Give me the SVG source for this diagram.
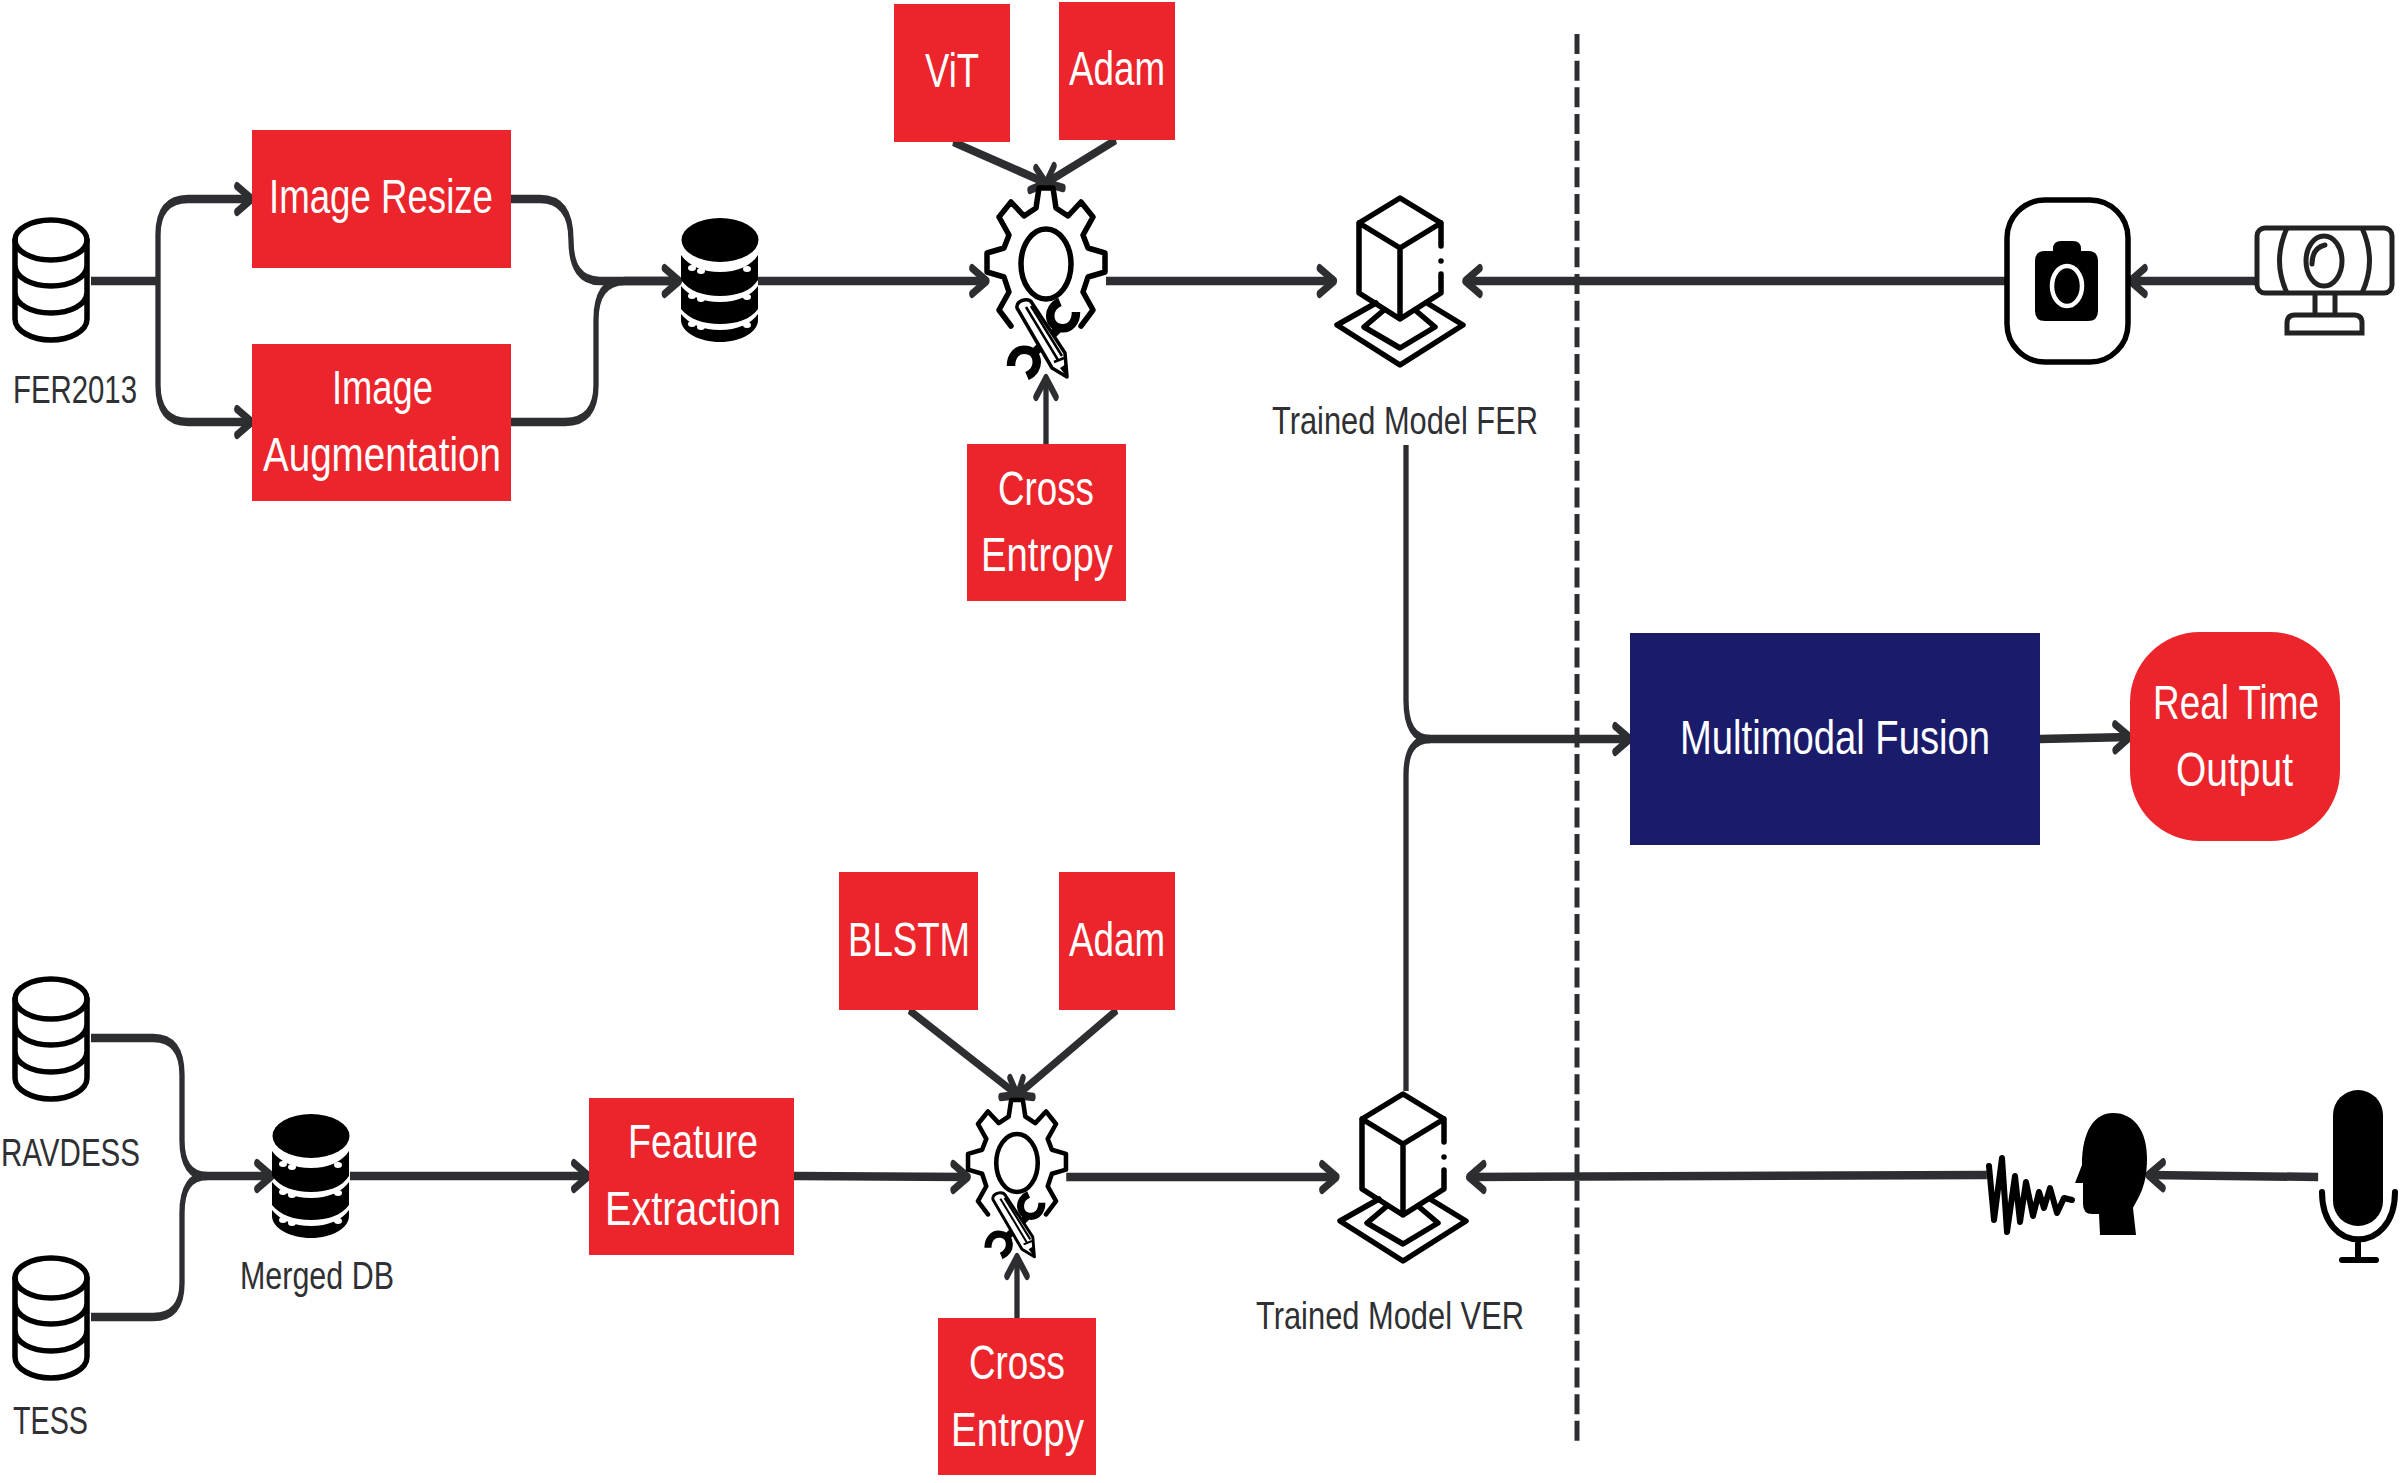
<svg xmlns="http://www.w3.org/2000/svg" width="2400" height="1483" viewBox="0 0 2400 1483">
<style>
.box{fill:#ec242c}
.w{fill:#fff;font-family:"Liberation Sans",Arial,sans-serif;font-size:49px}
.l{fill:#2f3034;font-family:"Liberation Sans",Arial,sans-serif;font-size:39px}
.c{fill:none;stroke:#2d2e32;stroke-width:8.500}
.h{fill:none;stroke:#2d2e32;stroke-width:8.500;stroke-linecap:round;stroke-linejoin:round}
.i{fill:none;stroke:#000;stroke-width:5.500;stroke-linejoin:round;stroke-linecap:round}
</style>
<defs>
<marker id="a" markerUnits="userSpaceOnUse" markerWidth="60" markerHeight="60" refX="40" refY="30" orient="auto"><path d="M16 17 L40 30 L16 43" class="h"/></marker>
<marker id="v" markerUnits="userSpaceOnUse" markerWidth="60" markerHeight="60" refX="40" refY="30" orient="auto"><path d="M21 14 L40 30 L21 46" class="h"/></marker>
<g id="db"><ellipse cx="51" cy="22" rx="36" ry="20" class="i"/><path class="i" d="M15 22V101C15 113 32 122 51 122S87 113 87 101V22M15 47C15 60 32 68 51 68S87 60 87 47M15 74C15 87 32 95 51 95S87 87 87 74"/></g>
<g id="dbf"><ellipse cx="39" cy="22" rx="38.500" ry="22"/><path d="M0 37C8 48 22 54 39 54S70 48 77 37V62C70 73 56 78 39 78S8 73 0 62ZM0 68C8 78 22 84 39 84S70 78 77 68V91C70 101 56 106 39 106S8 101 0 91ZM0 96C8 106 22 112 39 112S70 106 77 96V102C77 114 60 124 39 124S0 114 0 102Z"/><g fill="#fff"><ellipse cx="11" cy="50" rx="4" ry="3"/><ellipse cx="20" cy="53" rx="4" ry="3"/><ellipse cx="66" cy="51" rx="4" ry="3"/><ellipse cx="11" cy="78" rx="4" ry="3"/><ellipse cx="20" cy="81" rx="4" ry="3"/><ellipse cx="66" cy="79" rx="4" ry="3"/><ellipse cx="11" cy="106" rx="4" ry="3"/><ellipse cx="20" cy="109" rx="4" ry="3"/><ellipse cx="66" cy="107" rx="4" ry="3"/></g></g>
<g id="gear">
<path class="i" d="M-35 62L-47 46L-37 28L-42 13L-59 8L-59 -11L-42 -16L-37 -29L-47 -47L-35 -62L-22 -48L-10 -56L-7 -76H7L10 -56L22 -48L35 -62L47 -47L37 -29L42 -16L59 -11L59 8L42 13L37 28L47 46L35 62"/>
<ellipse rx="25" ry="35" class="i"/>
<path d="M14 38C0 44 2 62 14 64C24 66 30 58 30 48M13 64L-13 90M-19 112C-5 106 -7 88 -19 86C-29 84 -35 92 -35 102" fill="none" stroke="#000" stroke-width="8.500"/>
<path d="M-29 44Q-30 38 -22 36Q-16 35 -14 39L19 89L21 113L6 104Z" fill="#fff" stroke="#000" stroke-width="3.500" stroke-linejoin="round"/>
<path d="M-20 43L12 96M-15 42L16 92M8 98L18 94" fill="none" stroke="#000" stroke-width="2.500"/>
<path d="M14 104L21 113L20 100Z"/>
</g>
<g id="model"><path class="i" d="M1441 246V223L1400 198L1359 223V293L1400 319L1441 293V274M1359 223L1400 248L1441 223M1400 248V319M1441 261h.01"/><path class="i" d="M1376 303L1337 325L1400 365L1463 325L1427 303M1384 310L1364 327L1400 348L1435 327L1415 310"/></g>
</defs>
<rect width="2400" height="1483" fill="#fff"/>
<g id="connectors" transform="scale(.625 1)">
<path class="c" d="M145.600 281H252.800"/>
<path class="c" d="M252.800 281V235Q252.800 199 300.800 199H403" marker-end="url(#a)"/>
<path class="c" d="M252.800 281V385Q252.800 422 300.800 422H403" marker-end="url(#a)"/>
<path class="c" d="M817.600 199H864Q913.600 199 913.600 240Q913.600 281 960 281H1087" marker-end="url(#a)"/>
<path class="c" d="M817.600 422H904Q953.600 422 953.600 385V320Q953.600 281 1000 281H1087"/>
<path class="c" d="M1212.800 281H1579" marker-end="url(#a)"/>
<path class="c" d="M1524.800 142L1673.600 183"/><path class="h" d="M1657.600 168L1673.600 183L1648 190"/>
<path class="c" d="M1785.600 140L1673.600 183"/><path class="h" d="M1686.400 166L1673.600 183L1700.800 188"/>
<path class="c" d="M1673.600 444V378" marker-end="url(#v)"/>
<path class="c" d="M1769.600 281H2135" marker-end="url(#a)"/>
<path class="c" d="M3211 281H2344" marker-end="url(#a)"/>
<path class="c" d="M3608 281H3408" marker-end="url(#a)"/>
<path class="c" d="M145.600 1038H245Q291.200 1038 291.200 1075V1140Q291.200 1176 331 1176H435" marker-end="url(#a)"/>
<path class="c" d="M145.600 1317H245Q291.200 1317 291.200 1283V1213Q291.200 1176 331 1176"/>
<path class="c" d="M560 1176H942" marker-end="url(#a)"/>
<path class="c" d="M1270.400 1176L1549 1177" marker-end="url(#a)"/>
<path class="c" d="M1454.400 1010L1628 1095"/><path class="h" d="M1616 1078L1628 1095L1601.600 1097"/>
<path class="c" d="M1787.200 1010L1628 1095"/><path class="h" d="M1636.800 1078L1628 1095L1652.800 1097"/>
<path class="c" d="M1627.200 1318V1257" marker-end="url(#v)"/>
<path class="c" d="M1706 1177H2139" marker-end="url(#a)"/>
<path class="c" d="M3179 1175L2350 1177" marker-end="url(#a)"/>
<path class="c" d="M3709 1177L3437 1175" marker-end="url(#a)"/>
<path class="c" d="M2249.600 445V700Q2249.600 739 2288 739H2608" marker-end="url(#a)"/>
<path class="c" d="M2249.600 1091V775Q2249.600 739 2288 739"/>
<path class="c" d="M3264 739L3408 737" marker-end="url(#a)"/>
</g>
<path id="divider" d="M1577 34V1447" fill="none" stroke="#2d2e32" stroke-width="5" stroke-dasharray="20 6.670"/>
<g id="fer2013"><use href="#db" y="218"/><text class="l" x="13" y="403" textLength="124" lengthAdjust="spacingAndGlyphs">FER2013</text></g>
<g id="image-resize"><rect class="box" x="252" y="130" width="259" height="138"/><text class="w" x="269" y="213" textLength="224" lengthAdjust="spacingAndGlyphs">Image Resize</text></g>
<g id="image-aug"><rect class="box" x="252" y="344" width="259" height="157"/><text class="w" x="332" y="404" textLength="101" lengthAdjust="spacingAndGlyphs">Image</text><text class="w" x="263" y="471" textLength="238" lengthAdjust="spacingAndGlyphs">Augmentation</text></g>
<g id="db1"><use href="#dbf" x="681" y="218"/></g>
<g id="vit"><rect class="box" x="894" y="4" width="116" height="138"/><text class="w" x="925" y="87" textLength="54" lengthAdjust="spacingAndGlyphs">ViT</text></g>
<g id="adam1"><rect class="box" x="1059" y="2" width="116" height="138"/><text class="w" x="1069" y="85" textLength="96" lengthAdjust="spacingAndGlyphs">Adam</text></g>
<g id="gear1"><use href="#gear" transform="translate(1046,264)"/></g>
<g id="cross1"><rect class="box" x="967" y="444" width="159" height="157"/><text class="w" x="998" y="505" textLength="96" lengthAdjust="spacingAndGlyphs">Cross</text><text class="w" x="981" y="571" textLength="132" lengthAdjust="spacingAndGlyphs">Entropy</text></g>
<g id="model-fer"><use href="#model"/><text class="l" x="1272" y="434" textLength="266" lengthAdjust="spacingAndGlyphs">Trained Model FER</text></g>
<g id="camera"><rect x="2007" y="200" width="121" height="162" rx="38" fill="#fff" stroke="#000" stroke-width="5.500"/><path d="M2035 261Q2035 251 2045 251H2053V249Q2053 241 2061 241H2073Q2081 241 2081 249V251H2088Q2098 251 2098 261V311Q2098 321 2088 321H2045Q2035 321 2035 311Z"/><ellipse cx="2067" cy="286" rx="15" ry="20" fill="none" stroke="#fff" stroke-width="4.500"/></g>
<g id="webcam" fill="none" stroke="#222" stroke-width="5"><rect x="2257" y="228" width="135" height="65" rx="8"/><ellipse cx="2324" cy="261" rx="18" ry="25"/><path d="M2287 228Q2272 261 2287 293M2362 228Q2377 261 2362 293M2315 294V315M2335 294V315"/><path d="M2312 264Q2312 248 2325 245" stroke-linecap="round"/><path d="M2287 333V323Q2287 315 2295 315H2354Q2362 315 2362 323V333Z"/></g>
<g id="fusion"><rect x="1630" y="633" width="410" height="212" fill="#1a1c6b"/><text class="w" x="1680" y="754" textLength="310" lengthAdjust="spacingAndGlyphs">Multimodal Fusion</text></g>
<g id="output"><rect class="box" x="2130" y="632" width="210" height="209" rx="70"/><text class="w" x="2153" y="719" textLength="166" lengthAdjust="spacingAndGlyphs">Real Time</text><text class="w" x="2176" y="786" textLength="117" lengthAdjust="spacingAndGlyphs">Output</text></g>
<g id="ravdess"><use href="#db" y="977"/><text class="l" x="1" y="1166" textLength="139" lengthAdjust="spacingAndGlyphs">RAVDESS</text></g>
<g id="tess"><use href="#db" y="1256"/><text class="l" x="13" y="1434" textLength="75" lengthAdjust="spacingAndGlyphs">TESS</text></g>
<g id="merged"><use href="#dbf" x="272" y="1114"/><text class="l" x="240" y="1289" textLength="154" lengthAdjust="spacingAndGlyphs">Merged DB</text></g>
<g id="feature"><rect class="box" x="589" y="1098" width="205" height="157"/><text class="w" x="628" y="1158" textLength="130" lengthAdjust="spacingAndGlyphs">Feature</text><text class="w" x="605" y="1225" textLength="176" lengthAdjust="spacingAndGlyphs">Extraction</text></g>
<g id="blstm"><rect class="box" x="839" y="872" width="139" height="138"/><text class="w" x="848" y="956" textLength="122" lengthAdjust="spacingAndGlyphs">BLSTM</text></g>
<g id="adam2"><rect class="box" x="1059" y="872" width="116" height="138"/><text class="w" x="1069" y="956" textLength="96" lengthAdjust="spacingAndGlyphs">Adam</text></g>
<g id="gear2"><use href="#gear" transform="translate(1017,1163) scale(.83)"/></g>
<g id="cross2"><rect class="box" x="938" y="1318" width="158" height="157"/><text class="w" x="969" y="1379" textLength="96" lengthAdjust="spacingAndGlyphs">Cross</text><text class="w" x="951" y="1446" textLength="133" lengthAdjust="spacingAndGlyphs">Entropy</text></g>
<g id="model-ver"><use href="#model" transform="translate(3,896)"/><text class="l" x="1256" y="1329" textLength="268" lengthAdjust="spacingAndGlyphs">Trained Model VER</text></g>
<g id="voice"><path d="M1989 1166L1994 1220L2002 1158L2007 1232L2015 1176L2020 1222L2026 1182L2033 1216L2039 1192L2044 1208L2050 1188L2057 1213L2064 1198L2072 1200" fill="none" stroke="#000" stroke-width="6" stroke-linejoin="round" stroke-linecap="round"/><path d="M2075 1183L2082 1165C2082 1130 2095 1113 2113 1113C2135 1113 2147 1132 2147 1158C2147 1185 2140 1195 2133 1208L2136 1235H2100L2099 1214H2092Q2083 1214 2083 1204V1183Z"/></g>
<g id="mic"><rect x="2333" y="1090" width="50" height="136" rx="25"/><path d="M2322 1192C2322 1255 2395 1255 2395 1192M2358 1242V1260M2342 1260H2376" fill="none" stroke="#000" stroke-width="6" stroke-linecap="round"/></g>
</svg>
